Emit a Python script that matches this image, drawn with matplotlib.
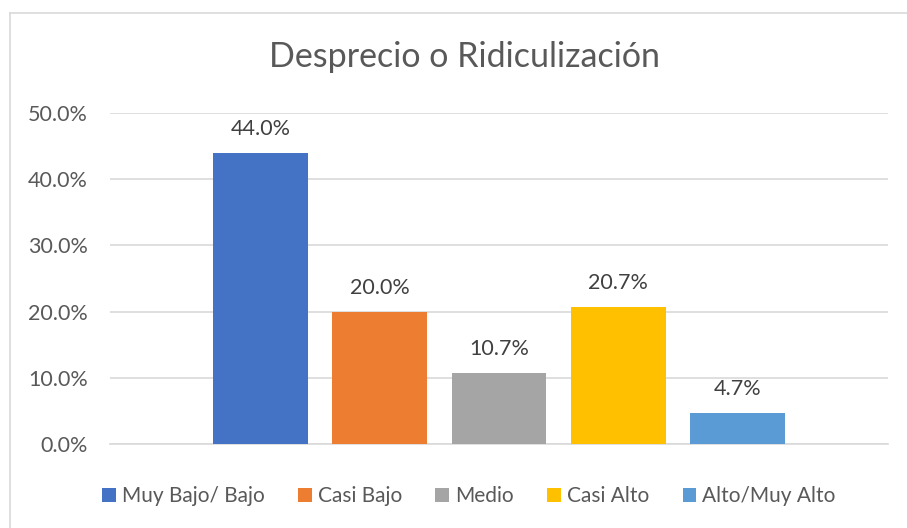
import matplotlib.pyplot as plt
from matplotlib.lines import Line2D
from matplotlib.ticker import FuncFormatter

categorias = ["Muy Bajo/ Bajo", "Casi Bajo", "Medio", "Casi Alto", "Alto/Muy Alto"]
valores = [0.440, 0.200, 0.107, 0.207, 0.047]
colores = ["#4472C4", "#ED7D31", "#A5A5A5", "#FFC000", "#5B9BD5"]
ticks_y = [0.0, 0.1, 0.2, 0.3, 0.4, 0.5]

plt.rcParams['font.family'] = ['Lato', 'DejaVu Sans']
gris = "#595959"

fig = plt.figure(figsize=(9.07, 5.28), dpi=100)
ax = fig.add_axes([110/907, 1-444/528, 778/907, 331/528])

# borde del grafico (izquierda y arriba visibles)
fig.add_artist(Line2D([10/907, 10/907], [0, 1-13/528], color="#D9D9D9", lw=1.2))
fig.add_artist(Line2D([10/907, 1], [1-13/528, 1-13/528], color="#D9D9D9", lw=1.2))

for i, (cat, v, c) in enumerate(zip(categorias, valores, colores)):
    ax.bar(i, v, width=0.795, color=c, label=cat, zorder=3)
    ax.text(i, v + 0.021, f"{v*100:.1f}%", ha="center", va="bottom",
            fontsize=15.5, color="#404040")

ax.set_xlim(-1.26, 5.26)
ax.set_ylim(0, 0.5)
ax.set_yticks(ticks_y)
ax.yaxis.set_major_formatter(FuncFormatter(lambda y, p: f"{y*100:.1f}%"))
ax.set_xticks([])
ax.grid(axis="y", color="#D9D9D9", lw=1.2, zorder=0)
for s in ["top", "right", "left"]:
    ax.spines[s].set_visible(False)
ax.spines["bottom"].set_color("#D9D9D9")
ax.spines["bottom"].set_linewidth(1.2)
ax.tick_params(axis="y", length=0, pad=16, labelsize=15.5, labelcolor=gris)

fig.text(465/907, 1-57/528, "Desprecio o Ridiculización", ha="center", va="center",
         fontsize=24.5, color=gris)

fig.legend(loc="center", bbox_to_anchor=(469/907, 1-496/528), ncol=5, frameon=False,
           fontsize=15, labelcolor=gris, handlelength=0.65, handleheight=0.65,
           handletextpad=0.3, columnspacing=1.6)

fig.savefig("out.png", dpi=100)
